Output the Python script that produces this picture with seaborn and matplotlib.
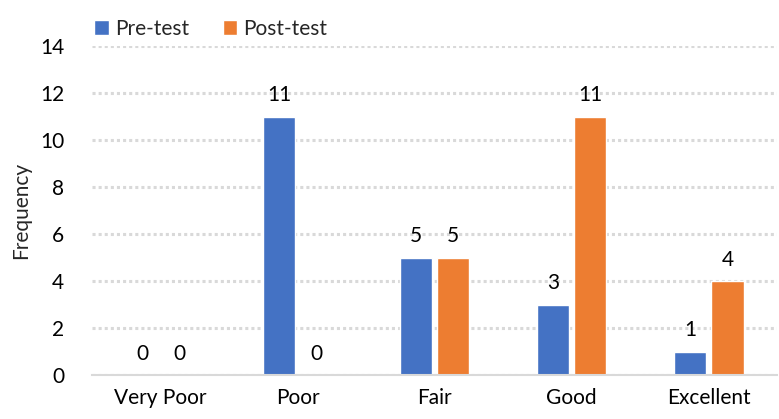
import pandas as pd
import matplotlib.pyplot as plt
import seaborn as sns

# data
categories = ["Very Poor", "Poor", "Fair", "Good", "Excellent"]
pre_test = [0, 11, 5, 3, 1]
post_test = [0, 0, 5, 11, 4]
series = ["Pre-test", "Post-test"]

df = pd.DataFrame({
    "Category": categories * 2,
    "Test": [series[0]] * len(categories) + [series[1]] * len(categories),
    "Frequency": pre_test + post_test,
})

sns.set_style("white")
plt.rcParams["font.family"] = ["Lato", "DejaVu Sans"]

fs = 15

fig = plt.figure(figsize=(7.79, 4.19), dpi=100)
ax = fig.add_axes([0.118, 0.105, 0.88, 0.785])

ax = sns.barplot(
    data=df,
    x="Category",
    y="Frequency",
    hue="Test",
    order=categories,
    hue_order=series,
    palette=["#4472C4", "#ED7D31"],
    width=0.54,
    gap=0.13,
    saturation=1,
    ax=ax,
)

for cont in ax.containers:
    ax.bar_label(cont, padding=8, fontsize=fs, color="#000000")

ax.set_ylim(0, 14)
ax.set_yticks(range(0, 15, 2))
ax.set_xlim(-0.5, 4.5)
ax.yaxis.grid(True, color="#D9D9D9", linestyle=(0, (1, 1)), linewidth=2.2)
ax.xaxis.grid(False)
ax.set_axisbelow(True)

for s in ["top", "right", "left"]:
    ax.spines[s].set_visible(False)
ax.spines["bottom"].set_color("#D9D9D9")
ax.spines["bottom"].set_linewidth(1.5)

ax.tick_params(axis="both", length=0, labelsize=fs, colors="#000000")
ax.tick_params(axis="x", pad=9)
ax.tick_params(axis="y", pad=20)
ax.set_xlabel("")
ax.set_ylabel("Frequency", fontsize=fs, labelpad=6)

ax.get_legend().remove()
handles, labels = ax.get_legend_handles_labels()
fig.legend(
    handles, labels,
    loc="upper left",
    bbox_to_anchor=(0.097, 1.0),
    ncol=2,
    frameon=False,
    fontsize=fs,
    handlelength=0.7,
    handleheight=0.7,
    handletextpad=0.3,
    columnspacing=1.6,
)

plt.savefig("out.png", dpi=100)
